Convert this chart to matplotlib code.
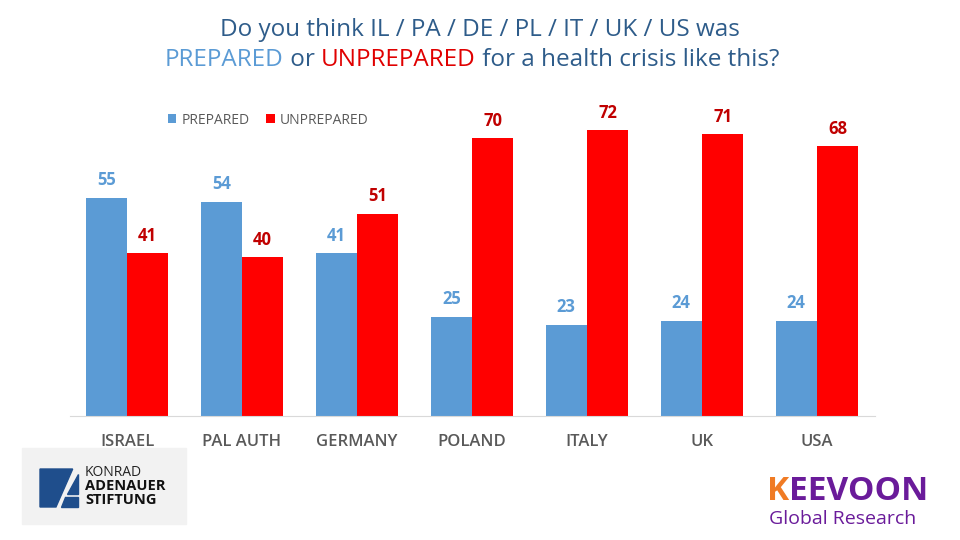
import matplotlib
matplotlib.use("Agg")
import matplotlib.pyplot as plt
from matplotlib.patches import Rectangle, Polygon
import numpy as np

plt.rcParams['font.family'] = ['Open Sans', 'DejaVu Sans']

# Data
countries = ["ISRAEL", "PAL AUTH", "GERMANY", "POLAND", "ITALY", "UK", "USA"]
prepared = [55, 54, 41, 25, 23, 24, 24]
unprepared = [41, 40, 51, 70, 72, 71, 68]

BLUE = "#5B9BD5"
RED = "#FF0000"
BLUE_LBL = "#5B9BD5"
RED_LBL = "#C00000"
TITLE_C = "#2E5C8A"
GRAY_TXT = "#595959"

fig = plt.figure(figsize=(9.6, 5.4), dpi=100)
ax = fig.add_axes([69.5 / 960, 124 / 540, 805 / 960, 317.6 / 540])
ax.set_zorder(2)
ax.patch.set_alpha(0)

x = np.arange(len(countries))
w = 0.36
off = 0.18
ax.bar(x - off, prepared, w, color=BLUE, label="PREPARED")
ax.bar(x + off, unprepared, w, color=RED, label="UNPREPARED")

for xi, p, u in zip(x, prepared, unprepared):
    ax.annotate(str(p), (xi - off, p), xytext=(0, 6), textcoords="offset points",
                ha="center", va="bottom", fontsize=12, fontweight="bold", color=BLUE_LBL)
    ax.annotate(str(u), (xi + off, u), xytext=(0, 6), textcoords="offset points",
                ha="center", va="bottom", fontsize=12, fontweight="bold", color=RED_LBL)

ax.set_xlim(-0.5, len(countries) - 0.5)
ax.set_ylim(0, 80)
ax.set_yticks([])
ax.set_xticks(x)
ax.set_xticklabels(countries, fontsize=12, color=GRAY_TXT, fontweight="semibold")
ax.tick_params(axis="x", length=0, pad=13)
for s in ["top", "right", "left"]:
    ax.spines[s].set_visible(False)
ax.spines["bottom"].set_color("#D9D9D9")

ax.legend(loc="upper left", bbox_to_anchor=(155 / 960, 1 - 100 / 540), bbox_transform=fig.transFigure,
          ncol=2, frameon=False, fontsize=10, handlelength=0.6, handleheight=0.6,
          handletextpad=0.4, columnspacing=1.2, labelcolor=GRAY_TXT)

# Title (multi-colour second line)
fig.text(0.5, 1 - 30 / 540, "Do you think IL / PA / DE / PL / IT / UK / US was",
         ha="center", va="center", fontsize=17.5, color=TITLE_C)
parts = [("PREPARED", BLUE, "normal"), (" or ", TITLE_C, "normal"),
         ("UNPREPARED", "#E00000", "normal"), (" for a health crisis like this?", TITLE_C, "normal")]
texts = [fig.text(0, 1 - 60 / 540, s, ha="left", va="center", fontsize=17.5, color=c, fontweight=fw)
         for s, c, fw in parts]
fig.canvas.draw()
r = fig.canvas.get_renderer()
widths = [t.get_window_extent(r).width for t in texts]
total = sum(widths)
cur = (944 - total) / 2
for t, wd in zip(texts, widths):
    t.set_x(cur / 960)
    cur += wd

# KAS logo (left)
fig.patches.append(Rectangle((22 / 960, 1 - 524 / 540), 164 / 960, 76 / 540,
                             transform=fig.transFigure, color="#F2F2F2", zorder=0))
lx0, ly0, ls = 40, 507, 38


def lp(px, py):
    return ((lx0 + px * ls) / 960, 1 - (ly0 - py * ls) / 540)


KAS_BLUE = "#1F4E8C"
fig.patches.append(Polygon([lp(0, 0), lp(0, 1), lp(0.86, 1), lp(0.42, 0)], closed=True,
                           transform=fig.transFigure, color=KAS_BLUE))
fig.patches.append(Polygon([lp(0.55, 0), lp(1, 0), lp(1, 0.26), lp(0.67, 0.26)], closed=True,
                           transform=fig.transFigure, color=KAS_BLUE))
fig.patches.append(Polygon([lp(0.71, 0.34), lp(1, 0.34), lp(1, 0.86)], closed=True,
                           transform=fig.transFigure, color=KAS_BLUE))
fig.text(85 / 960, 1 - 472 / 540, "KONRAD", fontsize=10, color="#222222", va="center", ha="left")
fig.text(85 / 960, 1 - 486 / 540, "ADENAUER", fontsize=10.5, color="#111111", va="center",
         ha="left", fontweight="bold")
fig.text(85 / 960, 1 - 500 / 540, "STIFTUNG", fontsize=10.5, color="#111111", va="center",
         ha="left", fontweight="bold")

# KEEVOON logo (right)
kt = fig.text(767 / 960, 1 - 500 / 540, "K", fontsize=24, color="#F07B24", va="baseline",
              ha="left", fontweight="bold", fontstretch="condensed")
fig.canvas.draw()
kw = kt.get_window_extent(r).width
fig.text((767 + kw) / 960, 1 - 500 / 540, "EEVOON", fontsize=24, color="#6A1B9A", va="baseline",
         ha="left", fontweight="bold", fontstretch="condensed")
fig.text(769 / 960, 1 - 524 / 540, "Global Research", fontsize=14, color="#6A1B9A",
         va="baseline", ha="left")

fig.savefig("out.png", dpi=100)
